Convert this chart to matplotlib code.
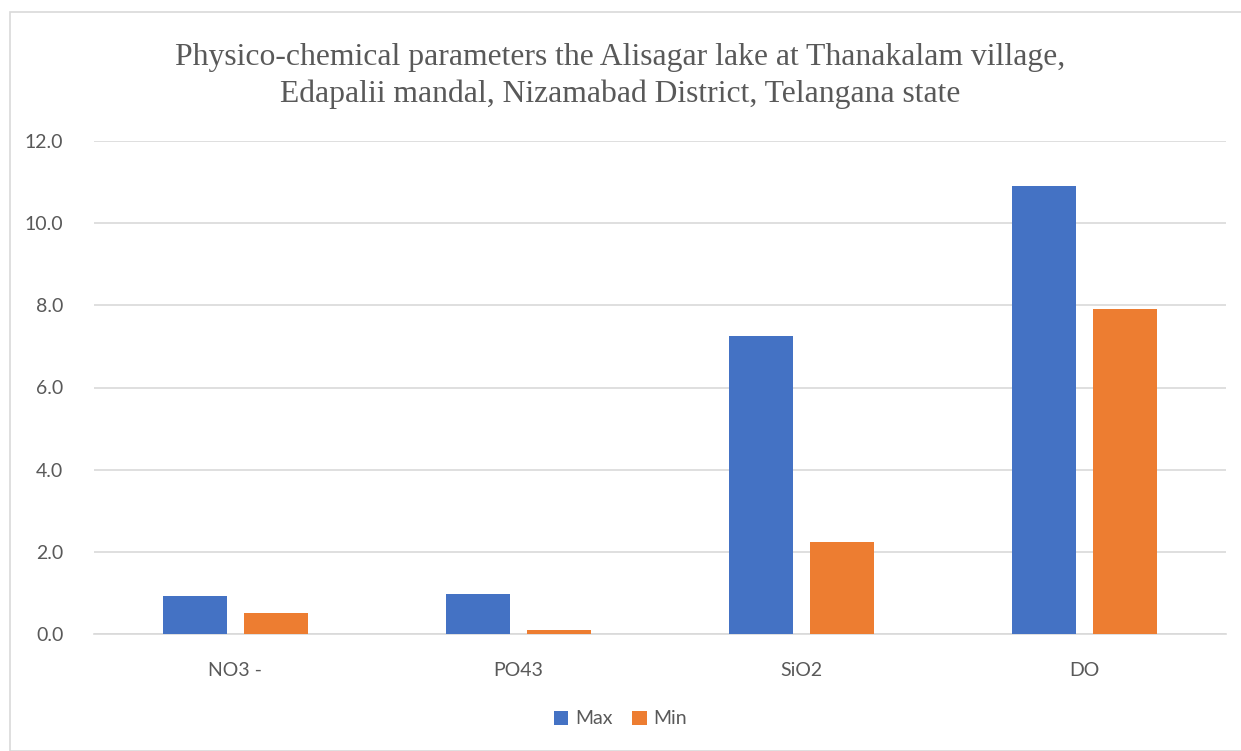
import matplotlib
matplotlib.use("Agg")
import matplotlib.pyplot as plt
import numpy as np
from matplotlib.patches import Rectangle

# Data
categories = ['NO3 -', 'PO43', 'SiO2', 'DO']
max_vals = [0.93, 0.97, 7.25, 10.9]
min_vals = [0.50, 0.10, 2.25, 7.91]

blue = '#4472C4'
orange = '#ED7D31'
grey_text = '#595959'

fig = plt.figure(figsize=(12.41, 7.51), dpi=100)
ax = fig.add_axes([94 / 1241, 1 - 634 / 751, 1132 / 1241, 493 / 751])

# figure border
fig.patches.append(Rectangle((10 / 1241, 0), 1.2, 1 - 12 / 751, transform=fig.transFigure,
                             fill=False, edgecolor='#D9D9D9', linewidth=1.2))

x = np.arange(len(categories))
w = 0.226
off = 0.143
ax.bar(x - off, max_vals, w, color=blue, label='Max', zorder=3)
ax.bar(x + off, min_vals, w, color=orange, label='Min', zorder=3)

ax.set_xlim(-0.5, len(categories) - 0.5)
ax.set_ylim(0, 12)
ax.set_yticks(np.arange(0, 12.1, 2))
ax.set_yticklabels([f'{v:.1f}' for v in np.arange(0, 12.1, 2)])
ax.set_xticks(x)
ax.set_xticklabels(categories)

ax.grid(axis='y', color='#D9D9D9', linewidth=1.2, zorder=0)
for s in ['top', 'right', 'left']:
    ax.spines[s].set_visible(False)
ax.spines['bottom'].set_color('#D9D9D9')
ax.spines['bottom'].set_linewidth(1.2)
ax.tick_params(length=0, labelsize=14, labelcolor=grey_text)
ax.tick_params(axis='y', pad=22)
ax.tick_params(axis='x', pad=20)
for lab in ax.get_xticklabels() + ax.get_yticklabels():
    lab.set_family('Lato')

fig.text(0.5, 1 - 76 / 751,
         'Physico-chemical parameters the Alisagar lake at Thanakalam village,\nEdapalii mandal, Nizamabad District, Telangana state',
         ha='center', va='center', fontsize=22.8, family='Liberation Serif', color='#595959',
         linespacing=1.3)

leg = fig.legend(loc='center', bbox_to_anchor=(0.5, 1 - 719 / 751), ncol=2, frameon=False,
                 prop={'family': 'Lato', 'size': 14}, handlelength=0.75, handleheight=0.75,
                 handletextpad=0.35, columnspacing=1.0)
for t in leg.get_texts():
    t.set_color(grey_text)

fig.savefig('out.png', dpi=100)
